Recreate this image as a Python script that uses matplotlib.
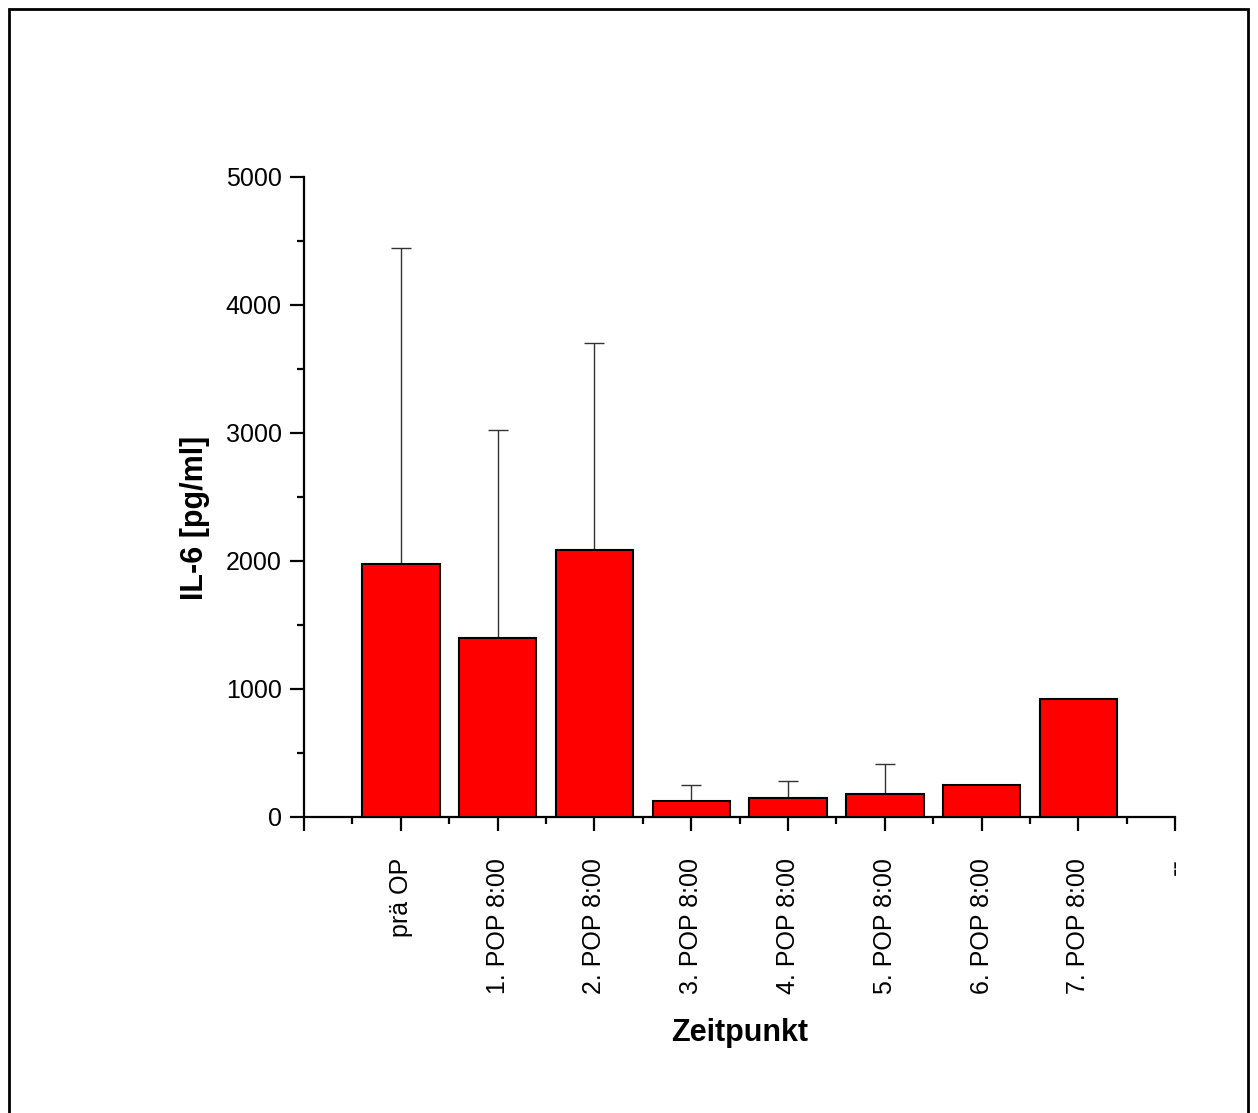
import numpy as np
import matplotlib.pyplot as plt
from matplotlib.patches import Rectangle
from matplotlib.ticker import MultipleLocator

plt.rcParams['font.family'] = ['Liberation Sans', 'DejaVu Sans']

zeitpunkte = ['prä OP', '1. POP 8:00', '2. POP 8:00', '3. POP 8:00',
              '4. POP 8:00', '5. POP 8:00', '6. POP 8:00', '7. POP 8:00']
il6_mean = [1975, 1398, 2088, 127, 148, 182, 246, 922]
il6_sd = [2470, 1625, 1615, 121, 133, 230, 0, 0]

fig = plt.figure(figsize=(12.58, 11.13), dpi=100)
ax = fig.add_axes([0.2417, 0.266, 0.6925, 0.575])

x = np.arange(1, len(zeitpunkte) + 1)
ax.bar(x, il6_mean, width=0.8, color='#FF0000', edgecolor='black', linewidth=1.5, zorder=3)

# only upper error bars, like the original plot
has_err = np.array(il6_sd) > 0
ax.errorbar(x[has_err], np.array(il6_mean)[has_err],
            yerr=[np.zeros(has_err.sum()), np.array(il6_sd)[has_err]],
            fmt='none', ecolor='#333333', elinewidth=1.0, capsize=7, capthick=1.0, zorder=2)

ax.set_xlim(0, 9)
ax.set_ylim(0, 5000)
ax.set_xticks(np.arange(0, 10))
ax.set_xticklabels([''] + zeitpunkte + ['--'], rotation=90, fontsize=18)
ax.xaxis.set_minor_locator(MultipleLocator(0.5))
ax.yaxis.set_major_locator(MultipleLocator(1000))
ax.yaxis.set_minor_locator(MultipleLocator(500))
ax.tick_params(axis='y', labelsize=18, pad=6)

for s in ['top', 'right']:
    ax.spines[s].set_visible(False)
for s in ['left', 'bottom']:
    ax.spines[s].set_linewidth(1.6)
ax.tick_params(which='major', length=10, width=1.6, direction='out')
ax.tick_params(which='minor', length=5, width=1.6, direction='out')
ax.tick_params(axis='x', pad=19.5)

ax.set_xlabel('Zeitpunkt', fontsize=22, fontweight='bold', labelpad=17)
ax.set_ylabel('IL-6 [pg/ml]', fontsize=22, fontweight='bold')
ax.yaxis.set_label_coords(-0.108, 0.467)

# frame around the whole figure
fig.patches.append(Rectangle((9 / 1258, -0.01), (1248 - 9) / 1258, 1 - 9 / 1113 + 0.01,
                             transform=fig.transFigure, fill=False,
                             edgecolor='black', linewidth=2))

fig.savefig('out.png', dpi=100)
